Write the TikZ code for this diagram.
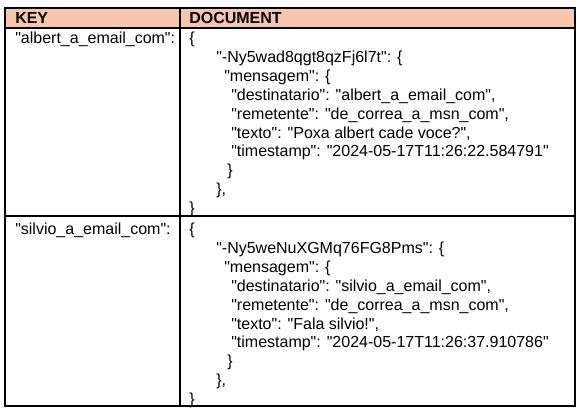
\documentclass[tikz,border=0pt]{standalone}
\usepackage{fontspec}
\newfontfamily\arial{Liberation Sans}
\usepackage{xcolor}
\usetikzlibrary{positioning}
\definecolor{headbg}{HTML}{F7C6AC}
\definecolor{rule}{HTML}{000000}
\definecolor{ink}{HTML}{000000}
\tikzset{
  grid/.style={draw=rule, line width=0.8pt},
  headfill/.style={fill=headbg},
  hd/.style={anchor=base west, inner sep=0pt, text=ink, font=\arial\fontsize{12}{14}\selectfont\bfseries},
  txt/.style={anchor=base west, inner sep=0pt, text=ink, font=\arial\fontsize{12}{14}\selectfont},
}
\begin{document}
\begin{tikzpicture}[x=0.75pt, y=-0.75pt]
  \useasboundingbox (0,0) rectangle (581,411);
  \coordinate (TL) at (5,8);
  \coordinate (BR) at (575,406);
  \fill[headfill] (TL) rectangle (575,28);
  \draw[grid] (TL) rectangle (BR);
  \draw[grid] (5,28) -- (575,28);
  \draw[grid] (5,216) -- (575,216);
  \draw[grid] (180,8) -- (180,406);
  \node[hd] (key) at (15,23.5) {KEY};
  \node[hd] (doc) at (189,23.5) {DOCUMENT};
  % first row
  \node[txt] (k1) at (15,43.5) {"albert\_a\_email\_com":};
  \foreach \i/\x/\t in {
    0/189/{\{},
    1/216/{"-Ny5wad8qgt8qzFj6l7t": \{},
    2/224/{"mensagem": \{},
    3/231/{"destinatario": "albert\_a\_email\_com",},
    4/231/{"remetente": "de\_correa\_a\_msn\_com",},
    5/231/{"texto": "Poxa albert cade voce?",},
    6/231/{"timestamp": "2024-05-17T11:26:22.584791"},
    7/227/{\}},
    8/216/{\},},
    9/189/{\}}}
    \node[txt] (a\i) at (\x,43.5+18.9*\i) {\t};
  % second row
  \node[txt] (k2) at (15,234.5) {"silvio\_a\_email\_com":};
  \foreach \i/\x/\t in {
    0/189/{\{},
    1/216/{"-Ny5weNuXGMq76FG8Pms": \{},
    2/224/{"mensagem": \{},
    3/231/{"destinatario": "silvio\_a\_email\_com",},
    4/231/{"remetente": "de\_correa\_a\_msn\_com",},
    5/231/{"texto": "Fala silvio!",},
    6/231/{"timestamp": "2024-05-17T11:26:37.910786"},
    7/227/{\}},
    8/216/{\},},
    9/189/{\}}}
    \node[txt] (b\i) at (\x,234.5+18.9*\i) {\t};
\end{tikzpicture}
\end{document}
